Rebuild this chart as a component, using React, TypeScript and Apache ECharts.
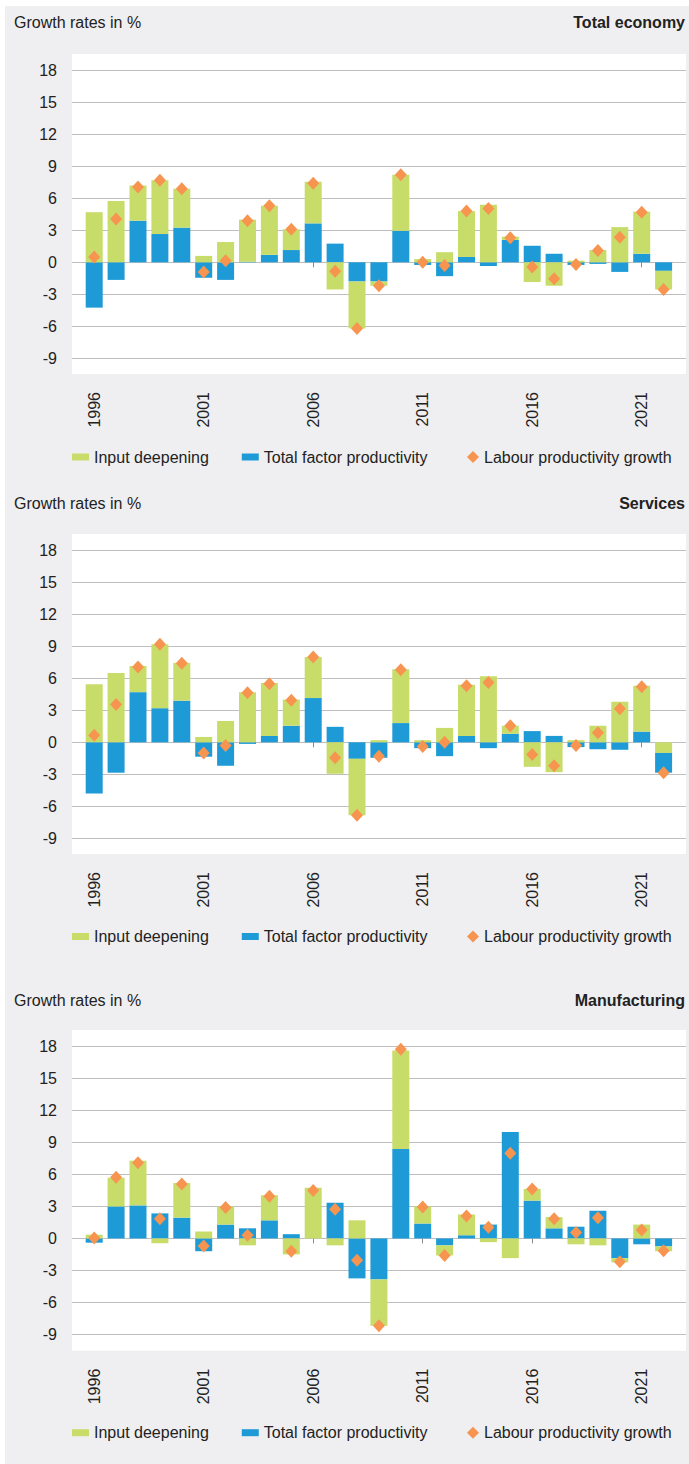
import React, { useEffect, useRef } from 'react';
import * as echarts from 'echarts';

// ---------- data ----------
const years = [
  '1996', '1997', '1998', '1999', '2000', '2001', '2002', '2003', '2004', '2005',
  '2006', '2007', '2008', '2009', '2010', '2011', '2012', '2013', '2014', '2015',
  '2016', '2017', '2018', '2019', '2020', '2021', '2022',
];

const totalInput = [4.7, 5.75, 3.3, 5.05, 3.65, 0.6, 1.9, 3.95, 4.6, 1.95, 3.9, -2.55, -4.4, -0.4, 5.25, 0.3, 0.95, 4.3, 5.4, 0.3, -1.85, -2.2, 0.15, 1.15, 3.3, 3.95, -1.75];
const totalTfp = [-4.25, -1.65, 3.9, 2.65, 3.25, -1.45, -1.65, 0.05, 0.7, 1.15, 3.65, 1.75, -1.8, -1.8, 2.95, -0.25, -1.3, 0.5, -0.35, 2.1, 1.55, 0.8, -0.25, -0.15, -0.9, 0.8, -0.8];
const totalLabour = [0.5, 4.05, 7.05, 7.7, 6.9, -0.9, 0.15, 3.9, 5.3, 3.1, 7.4, -0.85, -6.2, -2.2, 8.2, 0.0, -0.3, 4.8, 5.05, 2.3, -0.45, -1.55, -0.2, 1.1, 2.35, 4.7, -2.55];

const servicesInput = [5.45, 6.5, 2.45, 6.0, 3.55, 0.5, 2.0, 4.7, 4.95, 2.45, 3.85, -2.95, -5.3, 0.2, 5.05, 0.2, 1.35, 4.8, 6.2, 0.75, -2.3, -2.8, 0.2, 1.55, 3.8, 4.3, -1.0];
const servicesTfp = [-4.8, -2.85, 4.7, 3.2, 3.9, -1.35, -2.2, -0.15, 0.6, 1.55, 4.15, 1.45, -1.55, -1.45, 1.8, -0.55, -1.3, 0.6, -0.55, 0.8, 1.05, 0.6, -0.45, -0.65, -0.7, 1.0, -1.85];
const servicesLabour = [0.65, 3.55, 7.05, 9.2, 7.4, -1.0, -0.3, 4.65, 5.5, 3.95, 8.0, -1.45, -6.85, -1.3, 6.8, -0.4, 0.0, 5.3, 5.6, 1.55, -1.15, -2.2, -0.3, 0.9, 3.15, 5.2, -2.85];
// years where input deepening is drawn next to the zero line (below TFP in the stack)
const servicesInputNearAxis = ['2022'];

const manufInput = [0.35, 2.7, 4.2, -0.45, 3.25, 0.65, 1.7, -0.65, 2.35, -1.5, 4.75, -0.65, 1.7, -4.35, 9.25, 1.6, -0.95, 1.95, -0.35, -1.85, 1.1, 1.05, -0.55, -0.65, -0.4, 1.3, -0.45];
const manufTfp = [-0.4, 3.0, 3.1, 2.35, 1.95, -1.2, 1.3, 0.95, 1.7, 0.4, 0.0, 3.35, -3.75, -3.85, 8.4, 1.4, -0.65, 0.3, 1.3, 10.0, 3.55, 0.95, 1.1, 2.6, -1.85, -0.55, -0.75];
const manufLabour = [0.05, 5.75, 7.1, 1.85, 5.1, -0.7, 2.9, 0.3, 3.95, -1.2, 4.5, 2.75, -2.05, -8.2, 17.75, 2.95, -1.6, 2.1, 1.05, 8.0, 4.65, 1.85, 0.55, 1.95, -2.2, 0.8, -1.15];

const yMin = -9;
const yMax = 18;
const yInterval = 3;

const panelTitles = ['Total economy', 'Services', 'Manufacturing'];
const subTitle = 'Growth rates in %';
const seriesNames = ['Input deepening', 'Total factor productivity', 'Labour productivity growth'];

// ---------- style / layout ----------
const FONT = 'Liberation Sans';
const TEXT = '#222222';
const GREEN = '#c8dc6a';
const BLUE = '#1e9bd7';
const ORANGE = '#f79450';
const GREY_BG = '#efeff1';

const panelData = [
  { input: totalInput, tfp: totalTfp, labour: totalLabour, near: [] as string[] },
  { input: servicesInput, tfp: servicesTfp, labour: servicesLabour, near: servicesInputNearAxis },
  { input: manufInput, tfp: manufTfp, labour: manufLabour, near: [] as string[] },
];

const layout = [
  { gridTop: 70.3, gridH: 288, whiteTop: 54, whiteBottom: 374, titleY: 22, legendY: 457 },
  { gridTop: 550.3, gridH: 288, whiteTop: 534, whiteBottom: 854, titleY: 503, legendY: 936.5 },
  { gridTop: 1046.7, gridH: 287.6, whiteTop: 1030, whiteBottom: 1350.7, titleY: 1000.5, legendY: 1432.7 },
];

function buildOption() {
  const grid: any[] = [];
  const xAxis: any[] = [];
  const yAxis: any[] = [];
  const series: any[] = [];
  const legend: any[] = [];
  const graphic: any[] = [
    {
      type: 'rect', z: -10, silent: true,
      shape: { x: 5, y: 6, width: 684, height: 1458 },
      style: { fill: GREY_BG },
    },
  ];

  panelData.forEach((pd, p) => {
    const L = layout[p];
    const a = 2 * p;
    const b = 2 * p + 1;

    grid.push({ left: 72, width: 614, top: L.gridTop, height: L.gridH });
    grid.push({ left: 83.25, width: 591.3, top: L.gridTop, height: L.gridH });

    xAxis.push({ gridIndex: a, type: 'value', show: false, min: 0, max: 1 });
    xAxis.push({
      gridIndex: b,
      type: 'category',
      data: years,
      position: 'bottom',
      offset: L.whiteBottom - (L.gridTop + L.gridH),
      axisLine: { show: false },
      axisTick: {
        show: true, interval: 4, alignWithLabel: true, length: 5,
        lineStyle: { color: '#8a8a8a', width: 1 },
      },
      axisLabel: {
        interval: 4, rotate: 90, margin: 18,
        fontSize: 16, fontFamily: FONT, color: TEXT,
      },
      splitLine: { show: false },
    });

    yAxis.push({
      gridIndex: a,
      type: 'value',
      min: yMin, max: yMax, interval: yInterval,
      axisLine: { show: false },
      axisTick: { show: false },
      axisLabel: { margin: 15, fontSize: 16, fontFamily: FONT, color: TEXT },
      splitLine: { show: true, lineStyle: { color: '#bfbfbf', width: 1 } },
    });
    yAxis.push({
      gridIndex: b,
      type: 'value',
      min: yMin, max: yMax, interval: yInterval,
      show: false,
      splitLine: { show: false },
    });

    const stack = 'stack' + p;
    if (pd.near.length) {
      series.push({
        name: seriesNames[0], type: 'bar', stack, xAxisIndex: b, yAxisIndex: b,
        barWidth: 17, itemStyle: { color: GREEN },
        data: years.map((y, i) => (pd.near.includes(y) ? pd.input[i] : null)),
      });
    }
    series.push({
      name: seriesNames[1], type: 'bar', stack, xAxisIndex: b, yAxisIndex: b,
      barWidth: 17, itemStyle: { color: BLUE },
      data: pd.tfp,
    });
    series.push({
      name: seriesNames[0], type: 'bar', stack, xAxisIndex: b, yAxisIndex: b,
      barWidth: 17, itemStyle: { color: GREEN },
      data: years.map((y, i) => (pd.near.includes(y) ? null : pd.input[i])),
    });
    series.push({
      name: seriesNames[2], type: 'scatter', xAxisIndex: b, yAxisIndex: b,
      symbol: 'diamond', symbolSize: [12, 13], z: 4,
      itemStyle: { color: ORANGE, opacity: 1 },
      data: pd.labour,
    });

    legend.push({
      left: 72, top: L.legendY - 8, padding: 0, orient: 'horizontal',
      itemWidth: 17, itemHeight: 7, itemGap: 33, selectedMode: false,
      textStyle: { fontSize: 16, lineHeight: 16, fontFamily: FONT, color: TEXT },
      data: [
        { name: seriesNames[0], icon: 'rect', itemStyle: { color: GREEN } },
        { name: seriesNames[1], icon: 'rect', itemStyle: { color: BLUE } },
      ],
    });
    legend.push({
      left: 467, top: L.legendY - 8, padding: 0, orient: 'horizontal',
      itemWidth: 12, itemHeight: 12, selectedMode: false,
      textStyle: { fontSize: 16, lineHeight: 16, fontFamily: FONT, color: TEXT },
      data: [{ name: seriesNames[2], icon: 'diamond', itemStyle: { color: ORANGE } }],
    });

    graphic.push({
      type: 'rect', z: -9, silent: true,
      shape: { x: 72, y: L.whiteTop, width: 614, height: L.whiteBottom - L.whiteTop },
      style: { fill: '#ffffff' },
    });
    graphic.push({
      type: 'text', x: 14, y: L.titleY, z: 5, silent: true,
      style: {
        text: subTitle, fontSize: 16, fontFamily: FONT, fill: TEXT,
        verticalAlign: 'middle', textVerticalAlign: 'middle',
      },
    });
    graphic.push({
      type: 'text', x: 685, y: L.titleY, z: 5, silent: true,
      style: {
        text: panelTitles[p], fontSize: 16, fontWeight: 'bold', fontFamily: FONT, fill: TEXT,
        align: 'right', textAlign: 'right', verticalAlign: 'middle', textVerticalAlign: 'middle',
      },
    });
  });

  return {
    animation: false,
    backgroundColor: '#ffffff',
    textStyle: { fontFamily: FONT },
    grid,
    xAxis,
    yAxis,
    legend,
    series,
    graphic,
  };
}

export default function App() {
  const ref = useRef<HTMLDivElement>(null);

  useEffect(() => {
    if (!ref.current) return;
    const chart = echarts.init(ref.current, undefined, { renderer: 'svg' });
    chart.setOption(buildOption() as any);
    return () => {
      chart.dispose();
    };
  }, []);

  return (
    <div
      ref={ref}
      style={{ position: 'absolute', left: 0, top: 0, width: 689, height: 1464 }}
    />
  );
}
